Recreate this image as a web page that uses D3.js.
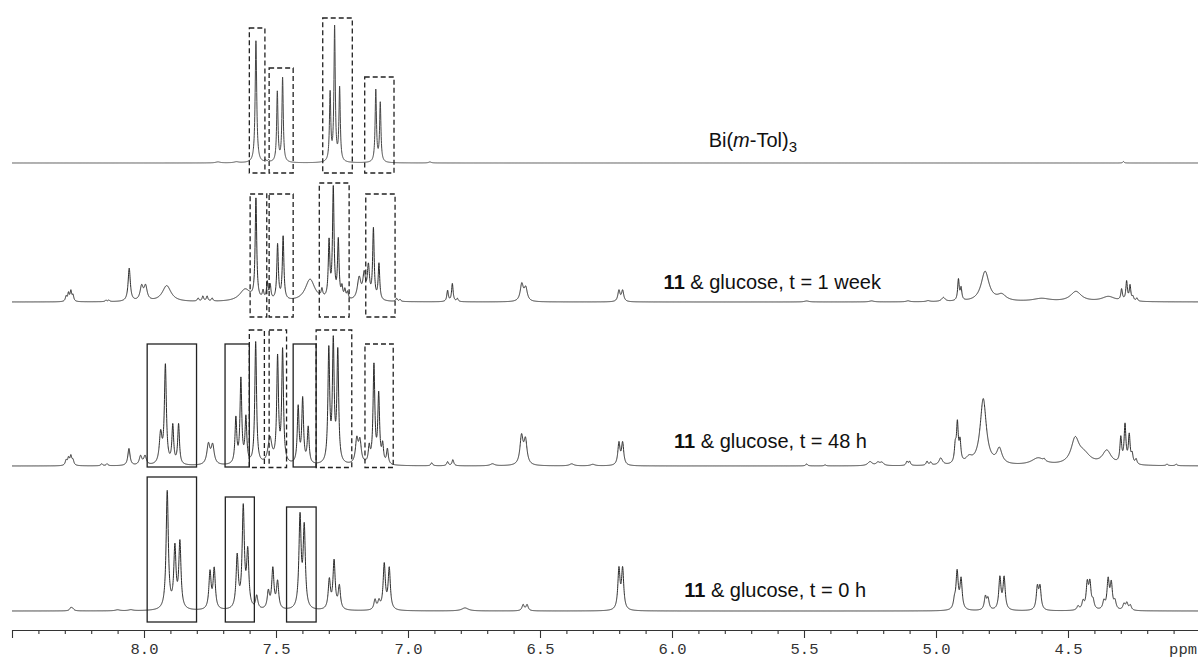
<!DOCTYPE html>
<html>
<head>
<meta charset="utf-8">
<script src="https://cdn.jsdelivr.net/npm/d3@7"></script>
<style>
    body { margin: 0; background: #fff; }
    svg { display: block; }
</style>
</head>
<body>
<svg id="nmr" width="1198" height="658"></svg>
<script>
// 1H NMR stack: Bi(m-Tol)3 reference and 11 + glucose over time.
// peaks: [ppm, intensity, half width in ppm (optional)]
var biPeaks = [
    [7.576, 122, 0.0035], [7.540, 2], [7.528, 2], [7.495, 70], [7.475, 84],
    [7.295, 68], [7.278, 134], [7.259, 73], [7.122, 72], [7.105, 59],
    [7.72, 1, 0.01], [7.65, 1, 0.01], [6.917, 1, 0.006], [4.29, 1.5]
];
var weekPeaks = [
    [8.295, 5], [8.286, 8], [8.277, 10], [8.269, 6], [8.144, 1.5], [8.133, 1.5],
    [8.056, 33, 0.005], [8.009, 14, 0.007], [7.994, 14, 0.007], [7.914, 16, 0.02],
    [7.795, 3], [7.777, 5], [7.761, 5], [7.742, 3], [7.617, 12, 0.025],
    [7.576, 100], [7.549, 8], [7.533, 17], [7.522, 14], [7.494, 55], [7.473, 63],
    [7.371, 22, 0.022], [7.326, 8], [7.299, 56], [7.283, 110], [7.264, 58],
    [7.25, 11], [7.239, 9], [7.229, 7], [7.185, 22, 0.008], [7.166, 24, 0.006],
    [7.15, 32, 0.005], [7.131, 70], [7.11, 36], [7.043, 3], [7.03, 2],
    [6.85, 11], [6.832, 18], [6.813, 3], [6.569, 17, 0.007], [6.554, 13, 0.007],
    [6.201, 11, 0.005], [6.187, 11, 0.005], [5.49, 1, 0.01], [5.244, 1, 0.01],
    [5.106, 1, 0.008], [5.03, 1, 0.008], [4.972, 4, 0.008], [4.915, 21], [4.905, 12],
    [4.814, 30, 0.018], [4.751, 6, 0.02], [4.6, 3, 0.04], [4.47, 10, 0.025],
    [4.347, 5, 0.03], [4.297, 11], [4.278, 19], [4.265, 15], [4.254, 4], [4.239, 3]
];
var h48Peaks = [
    [8.295, 5], [8.286, 7], [8.277, 9], [8.269, 5], [8.16, 2], [8.14, 2],
    [8.057, 17, 0.005], [8.013, 9, 0.006], [7.996, 9, 0.006],
    [7.937, 30, 0.006], [7.919, 98, 0.0045], [7.891, 38], [7.869, 40],
    [7.756, 20, 0.007], [7.74, 19, 0.007], [7.652, 45], [7.633, 84], [7.614, 45],
    [7.577, 122], [7.523, 26, 0.009], [7.494, 104], [7.475, 112],
    [7.416, 56], [7.399, 64], [7.378, 36], [7.3, 112], [7.283, 118], [7.266, 110],
    [7.194, 24, 0.006], [7.182, 22, 0.006], [7.147, 16],
    [7.129, 98], [7.111, 68], [7.096, 18], [7.078, 15],
    [6.91, 3], [6.85, 4], [6.83, 6], [6.68, 2, 0.01], [6.57, 28, 0.007], [6.555, 24, 0.007],
    [6.38, 2, 0.01], [6.3, 1.5, 0.01], [6.201, 22, 0.005], [6.187, 22, 0.005],
    [5.49, 2], [5.42, 1], [5.25, 4, 0.01], [5.22, 3, 0.008], [5.205, 3, 0.008],
    [5.11, 4], [5.10, 4], [5.034, 4], [5.02, 3], [4.982, 7, 0.008],
    [4.927, 16], [4.919, 38], [4.909, 20], [4.875, 6, 0.015], [4.821, 66, 0.014],
    [4.76, 15, 0.012], [4.613, 7, 0.03], [4.59, 2], [4.473, 24, 0.018], [4.44, 10, 0.03],
    [4.353, 14, 0.02], [4.3, 25], [4.284, 38], [4.268, 28], [4.257, 9], [4.242, 5],
    [4.125, 1.5], [4.09, 1.5]
];
var h0Peaks = [
    [8.277, 3], [8.27, 2], [8.1, 1, 0.01], [8.05, 1, 0.01],
    [7.912, 118], [7.883, 60], [7.864, 66], [7.75, 37], [7.734, 40],
    [7.647, 52], [7.624, 100], [7.607, 55], [7.573, 13],
    [7.529, 17], [7.512, 40], [7.494, 27], [7.409, 91], [7.393, 80],
    [7.298, 29], [7.28, 48], [7.26, 23], [7.125, 10], [7.11, 8], [7.09, 45], [7.071, 41],
    [6.784, 3, 0.015], [6.564, 6], [6.549, 6], [6.201, 40], [6.187, 40],
    [4.93, 8], [4.92, 37], [4.905, 30], [4.813, 13], [4.803, 11],
    [4.758, 32], [4.742, 32], [4.616, 22], [4.606, 22],
    [4.462, 4], [4.443, 8], [4.427, 25], [4.417, 25], [4.405, 8],
    [4.364, 8], [4.348, 29], [4.336, 25], [4.322, 8], [4.288, 6], [4.277, 7], [4.264, 5]
];

// boxes: [ppm left, ppm right, top intensity, bottom intensity]
var biDashed = [[7.601, 7.542, 135, -10], [7.526, 7.435, 95, -10], [7.323, 7.211, 145, -10], [7.164, 7.053, 86, -10]];
var weekDashed = [[7.598, 7.535, 108, -15], [7.526, 7.435, 108, -15], [7.336, 7.223, 119, -15], [7.16, 7.049, 108, -15]];
var h48Dashed = [[7.601, 7.544, 136, -1.5], [7.526, 7.46, 136, -1.5], [7.348, 7.213, 136, -1.5], [7.163, 7.056, 122, -1.5]];
var h48Solid = [[7.988, 7.801, 122, -1], [7.693, 7.601, 122, -1], [7.435, 7.348, 122, -1]];
var h0Solid = [[7.988, 7.801, 134, -11], [7.692, 7.582, 114, -11], [7.46, 7.348, 104, -11]];

var tickPpm = [8.5, 8.0, 7.5, 7.0, 6.5, 6.0, 5.5, 5.0, 4.5];
var tickText = ['', '8.0', '7.5', '7.0', '6.5', '6.0', '5.5', '5.0', '4.5'];
var minorPpm = [8.4, 8.3, 8.2, 8.1, 7.9, 7.8, 7.7, 7.6, 7.4, 7.3, 7.2, 7.1, 6.9, 6.8, 6.7, 6.6,
    6.4, 6.3, 6.2, 6.1, 5.9, 5.8, 5.7, 5.6, 5.4, 5.3, 5.2, 5.1, 4.9, 4.8, 4.7, 4.6, 4.4, 4.3, 4.2, 4.1];

(function () {
    "use strict";
    var svg = d3.select('#nmr');
    var x = d3.scaleLinear().domain([8.5, 4.0]).range([12, 1200]);
    var grid = d3.range(8.5, 3.9995, -0.0005);

    // stacked traces, top to bottom
    var traces = [
        {peaks: biPeaks, w: 0.003, base: 163, boxes: biDashed, solid: [], ink: '#444'},
        {peaks: weekPeaks, w: 0.0035, base: 302, boxes: weekDashed, solid: [], ink: '#2b2b2b'},
        {peaks: h48Peaks, w: 0.004, base: 466, boxes: h48Dashed, solid: h48Solid, ink: '#2b2b2b'},
        {peaks: h0Peaks, w: 0.005, base: 611, boxes: [], solid: h0Solid, ink: '#2b2b2b'}
    ];

    function lineshape(peaks, w0) {
        return grid.map(function (p) {
            var s = 0;
            peaks.forEach(function (pk) {
                var d = (p - pk[0]) / (pk[2] || w0);
                s += pk[1] / (1 + d * d);
            });
            return [p, s];
        });
    }

    traces.forEach(function (t) {
        var y = d3.scaleLinear().domain([0, 100]).range([t.base, t.base - 100]);
        var line = d3.line()
            .x(function (d) { return x(d[0]); })
            .y(function (d) { return y(d[1]); });
        svg.append('path')
            .datum(lineshape(t.peaks, t.w))
            .attr('d', line)
            .attr('fill', 'none')
            .attr('stroke', t.ink)
            .attr('stroke-width', 1)
            .attr('stroke-linejoin', 'round');

        function drawBoxes(list, dashed) {
            svg.selectAll(null).data(list).enter().append('rect')
                .attr('x', function (b) { return x(b[0]); })
                .attr('y', function (b) { return y(b[2]); })
                .attr('width', function (b) { return x(b[1]) - x(b[0]); })
                .attr('height', function (b) { return y(b[3]) - y(b[2]); })
                .attr('fill', 'none')
                .attr('stroke', '#222')
                .attr('stroke-width', 1.3)
                .attr('stroke-dasharray', dashed ? '5,3' : null);
        }
        drawBoxes(t.boxes, true);
        drawBoxes(t.solid, false);
    });

    // trace labels
    var sans = 'Liberation Sans, Arial, sans-serif';
    var bi = svg.append('text').attr('x', 797).attr('y', 147)
        .attr('text-anchor', 'end').attr('font-family', sans).attr('font-size', 20).attr('fill', '#111');
    bi.append('tspan').text('Bi(');
    bi.append('tspan').attr('font-style', 'italic').text('m');
    bi.append('tspan').text('-Tol)');
    bi.append('tspan').attr('font-size', 15).attr('dy', 5).text('3');

    var glucoseLabels = [['1 week', 881, 289], ['48 h', 867, 448], ['0 h', 866, 597]];
    glucoseLabels.forEach(function (g) {
        var t = svg.append('text').attr('x', g[1]).attr('y', g[2])
            .attr('text-anchor', 'end').attr('font-family', sans).attr('font-size', 20).attr('fill', '#111');
        t.append('tspan').attr('font-weight', 'bold').text('11');
        t.append('tspan').text(' & glucose, t = ' + g[0]);
    });

    // ppm axis
    var mono = 'Liberation Mono, Courier New, monospace';
    var minor = svg.append('g').attr('transform', 'translate(0,630)')
        .call(d3.axisBottom(x).tickValues(minorPpm).tickSize(4).tickSizeOuter(0).tickFormat(''));
    var major = svg.append('g').attr('transform', 'translate(0,630)')
        .call(d3.axisBottom(x).tickValues(tickPpm).tickSize(8).tickSizeOuter(0).tickPadding(5)
            .tickFormat(function (d, i) { return tickText[i]; }));
    minor.select('.domain').remove();
    major.select('.domain').attr('stroke', '#333').attr('stroke-width', 1.2);
    svg.selectAll('.tick line').attr('stroke', '#333').attr('stroke-width', 1.1);
    major.selectAll('text').attr('font-family', mono).attr('font-size', 15.5).attr('fill', '#333');
    svg.append('text').attr('x', 1197).attr('y', 654).attr('text-anchor', 'end')
        .attr('font-family', mono).attr('font-size', 15.5).attr('fill', '#333').text('ppm');
}());
</script>
</body>
</html>
